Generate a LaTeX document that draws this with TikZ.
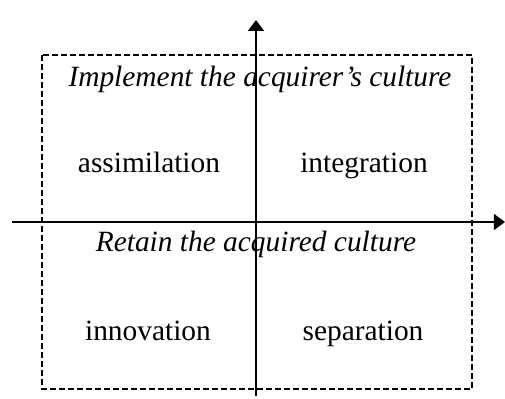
\documentclass[tikz,border=0pt]{standalone}
\usepackage{fontspec}
\setmainfont{Liberation Serif}
\usetikzlibrary{positioning, arrows.meta}

\begin{document}
\begin{tikzpicture}[x=0.5pt,y=-0.5pt,>={Triangle[length=5.5pt,width=8pt]},
    axis/.style={->,line width=0.6pt},
    frame/.style={draw,line width=1.1pt,dash pattern=on 3pt off 1.5pt},
    label/.style={anchor=base,inner sep=0pt,font=\fontsize{14.7}{17}\selectfont\itshape},
    quad/.style={anchor=base,inner sep=0pt,font=\fontsize{14.7}{17}\selectfont}]
    \useasboundingbox (0,0) rectangle (505,399);

    %%% MARCO %%%
    \draw[frame] (42,55) rectangle (472,389);

    %%% EJES %%%
    \coordinate (ys) at (256,396);
    \coordinate (ye) at (256,20);
    \coordinate (xs) at (12,222);
    \coordinate (xe) at (505,222);
    \draw[axis] (ys) -- (ye);
    \draw[axis] (xs) -- (xe);

    %%% TEXTOS %%%
    % Titulos
    \node[label] (top)    at (260,87)  {Implement the acquirer’s culture};
    \node[label] (bottom) at (256,252) {Retain the acquired culture};

    % Cuadrantes
    \node[quad] (assim) at (149,173) {assimilation};
    \node[quad] (integ) at (364,173) {integration};
    \node[quad] (innov) at (148,341) {innovation};
    \node[quad] (separ) at (363,341) {separation};
\end{tikzpicture}
\end{document}
